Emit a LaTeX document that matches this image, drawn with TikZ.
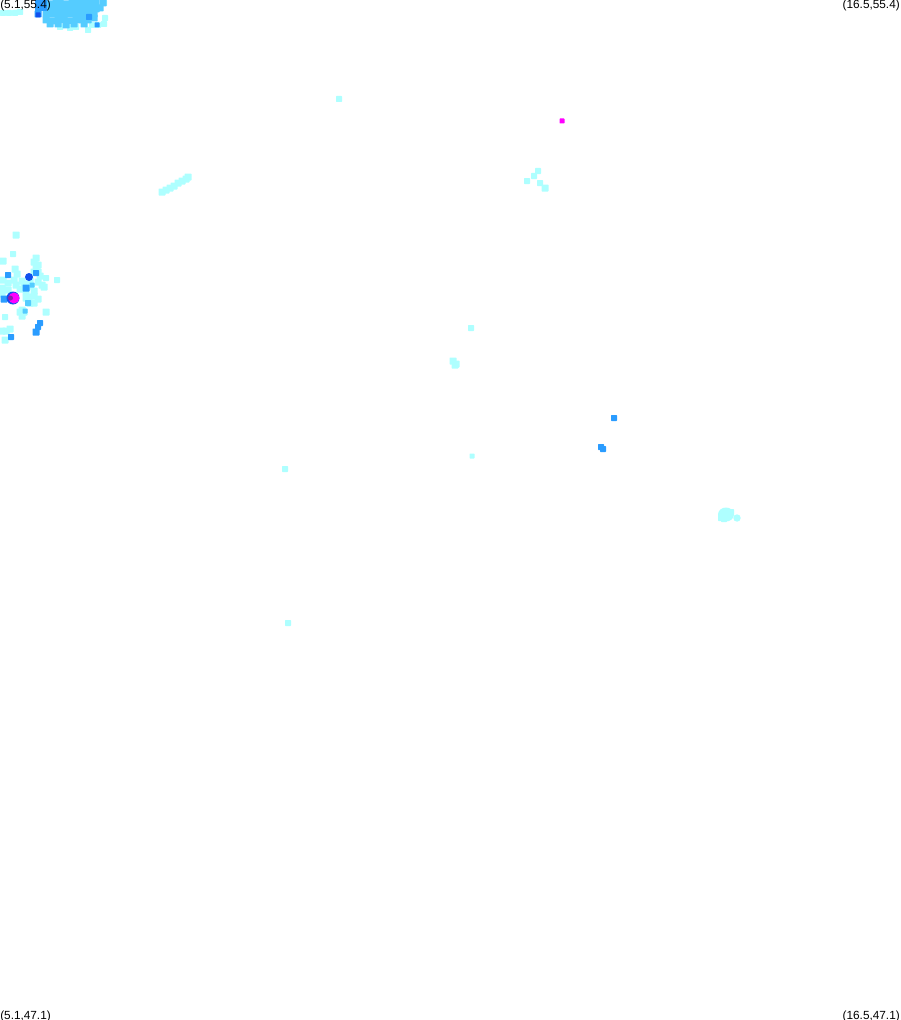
\documentclass[tikz,border=0pt]{standalone}
\usepackage{fontspec}
\setmainfont{Liberation Sans}
\definecolor{cL}{HTML}{AEFFFF}
\definecolor{cM}{HTML}{55CCFF}
\definecolor{cB}{HTML}{2A9CFF}
\definecolor{cD}{HTML}{1250EE}
\definecolor{cP}{HTML}{FF00FF}
\definecolor{cV}{HTML}{8A1FB0}
\tikzset{
  x=0.75pt,y=-0.75pt,
  lbl/.style={font=\fontsize{8.85pt}{10pt}\selectfont,inner sep=0pt,text=black},
  cell/.style={rounded corners=0.4pt}
}
% square marker centred at x,y, side s
\newcommand{\mk}[4]{\fill[#4,cell] (#1-#3/2,#2-#3/2) rectangle (#1+#3/2,#2+#3/2);}
\newcommand{\lots}[3]{\foreach \px/\py in {#3}{\mk{\px}{\py}{#1}{#2}}}
\begin{document}
\begin{tikzpicture}
\useasboundingbox (0,0) rectangle (900,1020);
\fill[white] (0,0) rectangle (900,1020);

% top-left cluster
\lots{6}{cL}{3/13,9/13,15/13,20/12,92/25,98/25,104/24,88/30,105/18,76/27,60/27,70/28,104/3}
\lots{7}{cM}{50/4,56/3,60/3,66/4,72/3,78/3,84/3,90/3,96/3,103/3,
 48/9,54/9,60/9,66/9,72/9,78/9,84/9,90/9,96/9,100/8,
 46/14,52/14,58/14,64/14,70/14,76/14,82/14,88/14,94/14,
 46/20,52/21,58/20,64/20,70/21,76/20,82/20,88/20,94/18,
 50/24,58/24,66/25,74/24,84/24}
\mk{97}{25}{5}{cB}
\mk{89}{17}{6}{cB}
\mk{41}{5}{12}{cB}
\mk{38}{14}{7}{cB}
\mk{38}{15}{5}{cD}

% left cluster: light cells
\lots{7}{cL}{16/235,3/261,36/258,34/262,38/265,36/268,34/272,38/272,
 15/269,17/274,3/280,8/283,14/280,22/281,30/281,38/282,44/287,
 2/288,8/290,2/294,20/289,26/292,34/291,42/285,34/296,28/297,38/299,
 30/303,34/303,46/312,24/312,20/312,22/316,
 6/331,10/329,2/331,5/340,22/310,31/286,26/298,40/276,16/285,24/284}
\lots{6}{cL}{57/280,5/317,13/254,46/278}
\mk{8}{275}{6}{cB}
\mk{36}{273}{6}{cB}
\mk{26}{288}{7}{cB}
\mk{32}{285}{5}{cM}
\mk{28}{303}{6}{cM}
\mk{25}{311}{5}{cM}
\mk{11}{337}{6}{cB}
\mk{4}{299}{7}{cB}
\mk{40}{323}{6}{cB}
\mk{38}{327}{6}{cB}
\mk{36}{332}{7}{cB}
\fill[cD] (29,277) circle (4);
\fill[cD] (13,298) circle (6.5);
\fill[cP] (14,298) circle (5.5);
\fill[cV] (10.5,298) circle (2.5);

% streak
\foreach \px/\py in {162/192,166/190,170/188,174/186,178/183,182/181,186/179,188/177}{\mk{\px}{\py}{7}{cL}}

% isolated points
\mk{339}{99}{6}{cL}
\mk{562}{121}{5}{cP}
\lots{6}{cL}{538/171,534/176,527/181,540/183}
\mk{545}{188}{7}{cL}
\mk{471}{328}{6}{cL}
\lots{7}{cL}{453/361,456/364,455/365}
\mk{614}{418}{6}{cB}
\lots{6}{cB}{601/447,603/449}
\mk{285}{469}{6}{cL}
\mk{472}{456}{5}{cL}
\mk{288}{623}{6}{cL}

% right blob
\fill[cL] (726,514.5) ellipse (8 and 7);
\lots{6}{cL}{721/518,724/519,731/512}
\fill[cL] (737,518) circle (3.7);

% corner labels
\node[lbl,anchor=north west] (tl) at (0,0) {(5.1,55.4)};
\node[lbl,anchor=north east] (tr) at (900,0) {(16.5,55.4)};
\node[lbl,anchor=south west] (bl) at (0,1022) {(5.1,47.1)};
\node[lbl,anchor=south east] (br) at (900,1022) {(16.5,47.1)};
\end{tikzpicture}
\end{document}
